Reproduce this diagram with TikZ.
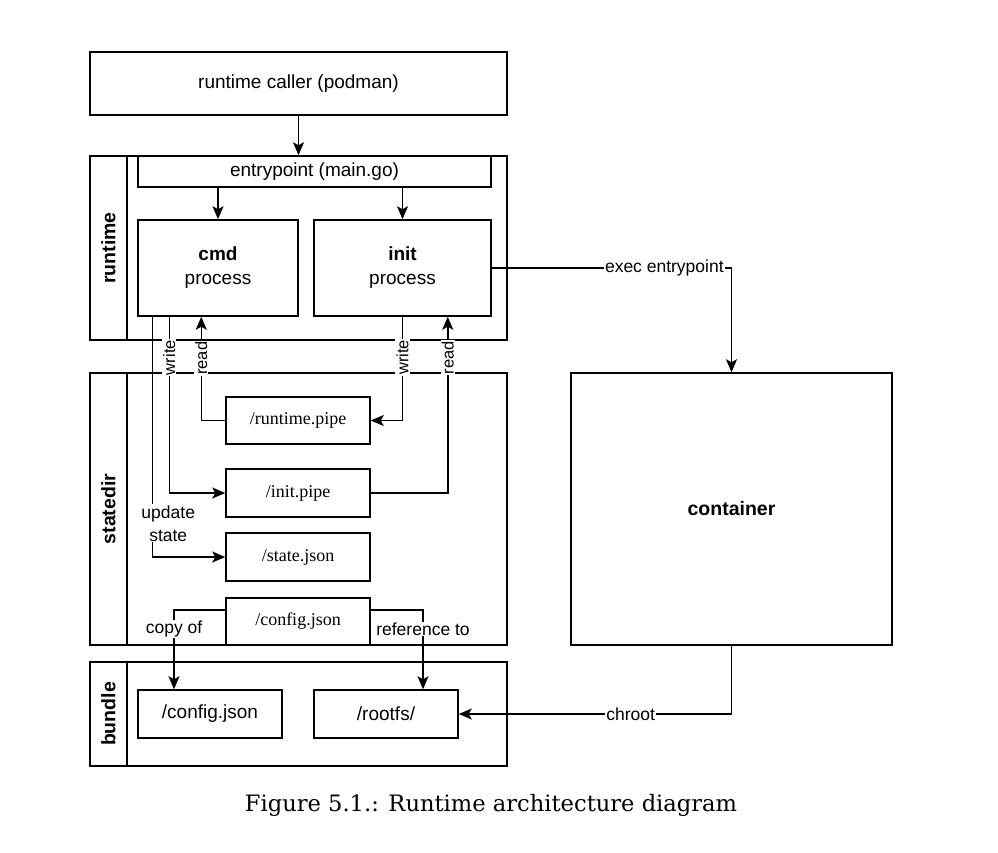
\documentclass[tikz,border=0pt]{standalone}
\usepackage{fontspec}
\setmainfont{Liberation Serif}
\setsansfont{Liberation Sans}
\newfontfamily\capfont{DejaVu Serif}
\usetikzlibrary{arrows.meta,positioning}

\tikzset{
    box/.style={draw, line width=1.5pt, inner sep=0pt, align=center,
        font=\sffamily\fontsize{19}{24}\selectfont},
    filebox/.style={box, minimum width=144pt, minimum height=48pt,
        font=\rmfamily\fontsize{18}{20}\selectfont},
    pool/.style={draw, line width=1.5pt, minimum width=417pt, inner sep=0pt},
    lanehead/.style={draw, line width=1.5pt, rotate=90, minimum height=37pt,
        inner sep=0pt, font=\sffamily\bfseries\fontsize{19.5}{22}\selectfont},
    arr/.style={line width=1.5pt, -{Stealth[length=13pt,width=11pt,inset=3pt]}},
    lab/.style={fill=white, inner sep=1pt, align=center,
        font=\sffamily\fontsize{17.5}{23}\selectfont},
    rwlab/.style={lab, rotate=90, inner sep=1pt,
        font=\sffamily\fontsize{16.5}{18}\selectfont}
}

\begin{document}
\begin{tikzpicture}[x=1pt,y=-1pt]
\useasboundingbox (0,0) rectangle (998,852);

% Caller
\node[box, minimum width=417pt, minimum height=63pt] (caller) at (298.5,83.5) {runtime caller (podman)};

% Pools
\node[pool, minimum height=184pt] (runtime) at (298.5,248) {};
\node[lanehead, minimum width=184pt] (runtimehead) at (108.5,248) {runtime};
\node[pool, minimum height=272pt] (statedir) at (298.5,509) {};
\node[lanehead, minimum width=272pt] (statedirhead) at (108.5,509) {statedir};
\node[pool, minimum height=104pt] (bundle) at (298.5,714) {};
\node[lanehead, minimum width=104pt] (bundlehead) at (108.5,714) {bundle};

% Runtime
\node[box, minimum width=353pt, minimum height=31pt] (entry) at (314.5,171.5) {entrypoint (main.go)};
\node[box, minimum width=160pt, minimum height=96pt] (cmd) at (218,268) {\textbf{cmd}\\process};
\node[box, minimum width=177pt, minimum height=96pt] (init) at (402.5,268) {\textbf{init}\\process};

% Statedir
\node[filebox, minimum height=47pt] (runpipe) at (298,420.5) {/runtime.pipe};
\node[filebox] (initpipe) at (298,493) {/init.pipe};
\node[filebox] (state) at (298,557) {/state.json};
\node[filebox, minimum height=47pt] (config) at (298,621.5) {/config.json};

% Bundle
\node[box, minimum width=144pt, minimum height=48pt] (bconfig) at (210,714) {/config.json};
\node[box, minimum width=144pt, minimum height=48pt] (rootfs) at (386,714) {/rootfs/};

% Container
\node[box, font=\sffamily\bfseries\fontsize{19.5}{22}\selectfont,
    minimum width=321pt, minimum height=272pt] (container) at (731.5,509) {container};

% Calls
\draw[arr] (caller.south) -- (caller.south |- entry.north);
\draw[arr] (entry.south -| cmd.north) -- (cmd.north);
\draw[arr] (entry.south -| init.north) -- (init.north);
\draw[arr] (init.east) -| node[lab, pos=0.36] {exec entrypoint} (container.north);
\draw[arr] (container.south) |- node[lab, pos=0.685] {chroot} (rootfs.east);

% Pipes
\draw[arr] ([xshift=32pt]cmd.south west) |- node[rwlab, pos=0.116] {write} (initpipe.west);
\draw[arr] (runpipe.west) -| node[rwlab, pos=0.8] {read} ([xshift=64pt]cmd.south west);
\draw[arr] (init.south) |- node[rwlab, pos=0.196] {write} (runpipe.east);
\draw[arr] (initpipe.east) -| node[rwlab, pos=0.884] {read} ([xshift=-44pt]init.south east);
\draw[arr] ([xshift=15pt]cmd.south west) |- node[lab, pos=0.43, xshift=16pt] {update\\state} (state.west);

% Config
\draw[arr] ([yshift=11.5pt]config.west) -| node[lab, pos=0.62] {copy of} ([xshift=-36pt]bconfig.north);
\draw[arr] ([yshift=11.5pt]config.east) -| node[lab, pos=0.62] {reference to} ([xshift=37pt]rootfs.north);

% Caption
\node[font=\capfont\fontsize{22.6}{26}\selectfont] (caption) at (491,805) {Figure 5.1.: Runtime architecture diagram};

\end{tikzpicture}
\end{document}
